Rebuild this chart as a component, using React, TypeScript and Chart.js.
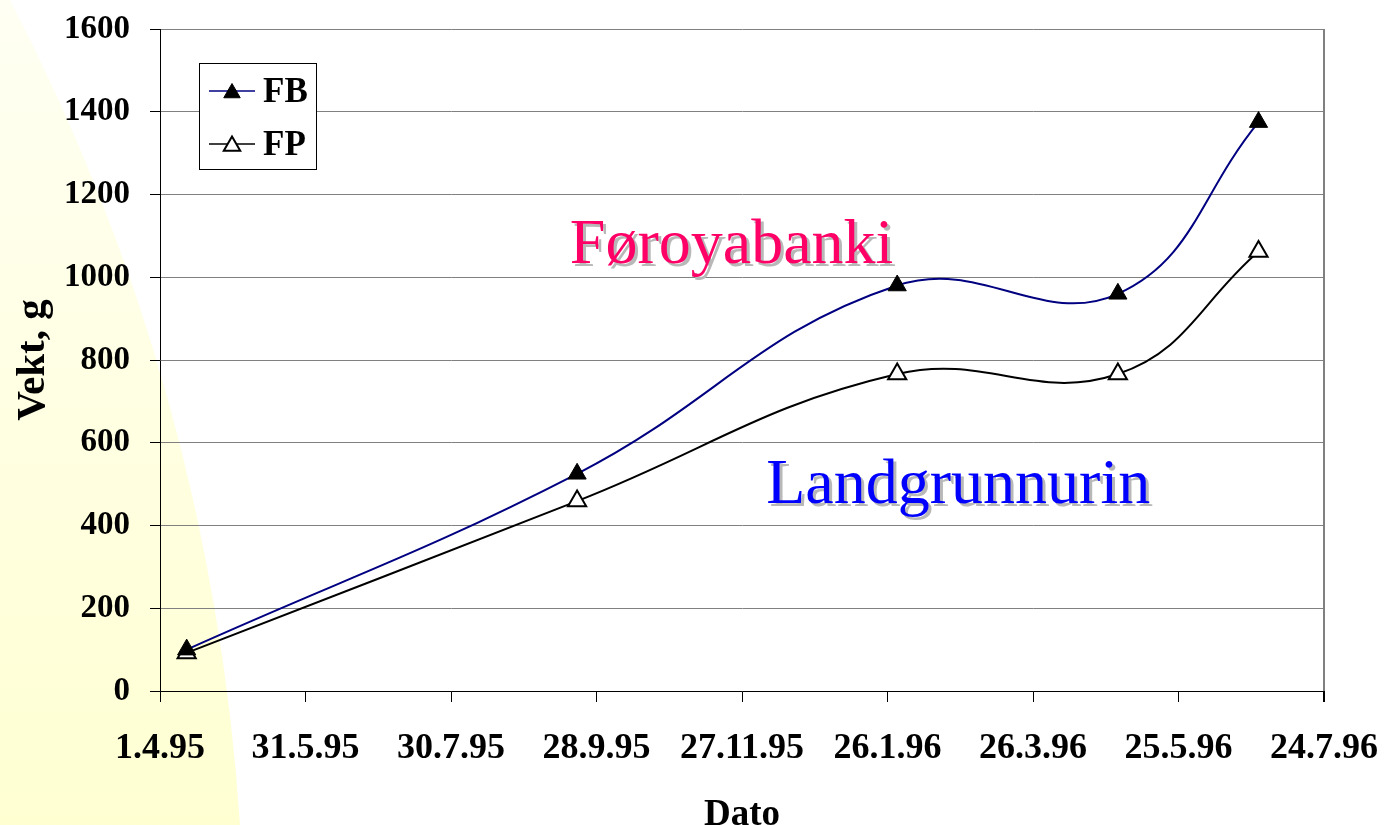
import React, { useEffect, useRef } from 'react';
import { Chart, registerables } from 'chart.js';

Chart.register(...registerables);

// ---- data ----
const xTickLabels = ['1.4.95', '31.5.95', '30.7.95', '28.9.95', '27.11.95', '26.1.96', '26.3.96', '25.5.96', '24.7.96'];
const xTickStepDays = 60; // days between tick labels
const sampleDays = [11, 172, 304, 395, 453]; // days after 1.4.95
const fbValues = [100, 525, 980, 960, 1375];
const fpValues = [92, 459, 766, 766, 1062];
const seriesNames = ['FB', 'FP'];
const yTitle = 'Vekt, g';
const xTitle = 'Dato';
const annotationTexts = ['Føroyabanki', 'Landgrunnurin'];
const annotationDays = [169, 250];
const annotationValues = [1035, 455];

const SERIF = "'Liberation Serif', 'Times New Roman', Times, serif";

const backgroundPlugin = {
  id: 'slideBackground',
  beforeDraw(chart: any) {
    const ctx = chart.ctx;
    const h = chart.height;
    ctx.save();
    const g = ctx.createLinearGradient(0, 0, 0, h);
    g.addColorStop(0, '#FFFFF3');
    g.addColorStop(1, '#FFFFD2');
    ctx.fillStyle = g;
    ctx.beginPath();
    ctx.moveTo(0, 0);
    ctx.lineTo(10, 0);
    ctx.quadraticCurveTo(211, 387.5, 240, h);
    ctx.lineTo(0, h);
    ctx.closePath();
    ctx.fill();
    ctx.restore();
  },
};

const annotationPlugin = {
  id: 'textAnnotations',
  afterDatasetsDraw(chart: any) {
    const ctx = chart.ctx;
    const xs = chart.scales.x;
    const ys = chart.scales.y;
    const colors = ['#FF0066', '#0000FF'];
    ctx.save();
    ctx.font = `64px ${SERIF}`;
    ctx.textAlign = 'left';
    ctx.textBaseline = 'alphabetic';
    annotationTexts.forEach((t, i) => {
      const px = xs.getPixelForValue(annotationDays[i]);
      const py = ys.getPixelForValue(annotationValues[i]);
      ctx.fillStyle = '#B8B8B8';
      ctx.fillText(t, px + 3, py + 3);
      ctx.fillStyle = colors[i];
      ctx.fillText(t, px, py);
    });
    ctx.restore();
  },
};

const legendPlugin = {
  id: 'boxLegend',
  afterDraw(chart: any) {
    const ctx = chart.ctx;
    const left = chart.chartArea.left + 39;
    const top = chart.chartArea.top + 34;
    const w = 117;
    const h = 106;
    ctx.save();
    ctx.fillStyle = '#FFFFFF';
    ctx.fillRect(left, top, w, h);
    ctx.strokeStyle = '#000';
    ctx.lineWidth = 1;
    ctx.strokeRect(left + 0.5, top + 0.5, w, h);
    chart.data.datasets.forEach((ds: any, i: number) => {
      const cy = top + 28 + i * 53;
      ctx.strokeStyle = ds.borderColor;
      ctx.lineWidth = 1.5;
      ctx.beginPath();
      ctx.moveTo(left + 10, cy);
      ctx.lineTo(left + 56, cy);
      ctx.stroke();
      const cx = left + 33;
      const r = 9.5;
      ctx.beginPath();
      for (let k = 0; k < 3; k++) {
        const a = (k * 2 * Math.PI) / 3;
        const px = cx + Math.sin(a) * r;
        const py = cy + 2 - Math.cos(a) * r;
        if (k === 0) ctx.moveTo(px, py); else ctx.lineTo(px, py);
      }
      ctx.closePath();
      ctx.fillStyle = ds.pointBackgroundColor;
      ctx.fill();
      ctx.strokeStyle = ds.pointBorderColor;
      ctx.lineWidth = ds.pointBorderWidth;
      ctx.stroke();
      ctx.fillStyle = '#000';
      ctx.font = `bold 35px ${SERIF}`;
      ctx.textAlign = 'left';
      ctx.textBaseline = 'alphabetic';
      ctx.fillText(ds.label, left + 64, cy + 11);
    });
    ctx.restore();
  },
};

export default function App() {
  const canvasRef = useRef<HTMLCanvasElement | null>(null);

  useEffect(() => {
    const canvas = canvasRef.current;
    if (!canvas) return;
    const fb = sampleDays.map((d, i) => ({ x: d, y: fbValues[i] }));
    const fp = sampleDays.map((d, i) => ({ x: d, y: fpValues[i] }));
    const lastTick = xTickLabels.length - 1;
    const chart = new Chart(canvas, {
      type: 'line',
      data: {
        datasets: [
          {
            label: seriesNames[0],
            data: fb,
            borderColor: '#000080',
            borderWidth: 2,
            tension: 0.42,
            pointStyle: 'triangle',
            pointRadius: 10.5,
            pointBackgroundColor: '#000000',
            pointBorderColor: '#000000',
            pointBorderWidth: 1,
            fill: false,
          },
          {
            label: seriesNames[1],
            data: fp,
            borderColor: '#000000',
            borderWidth: 2,
            tension: 0.42,
            pointStyle: 'triangle',
            pointRadius: 10.5,
            pointBackgroundColor: '#FFFFFF',
            pointBorderColor: '#000000',
            pointBorderWidth: 2,
            fill: false,
          },
        ],
      },
      options: {
        responsive: false,
        animation: false,
        devicePixelRatio: 1,
        layout: { padding: { left: 0, right: 63, top: 29, bottom: 0 } },
        plugins: {
          legend: { display: false },
          tooltip: { enabled: false },
        },
        scales: {
          x: {
            type: 'linear',
            min: 0,
            max: xTickStepDays * lastTick,
            ticks: {
              stepSize: xTickStepDays,
              autoSkip: false,
              maxRotation: 0,
              padding: 25,
              color: '#000',
              font: { family: SERIF, size: 36, weight: 'bold' },
              callback: (v: any) => xTickLabels[Math.round(Number(v) / xTickStepDays)] ?? '',
            },
            grid: {
              drawOnChartArea: true,
              color: (c: any) => (c.index === lastTick ? '#808080' : 'rgba(0,0,0,0)'),
              tickColor: '#000',
              tickLength: 11,
              lineWidth: (c: any) => (c.index === lastTick ? 2 : 1),
            },
            border: { color: '#000', width: 1 },
            title: {
              display: true,
              text: xTitle,
              color: '#000',
              font: { family: SERIF, size: 37, weight: 'bold', lineHeight: 1 },
              padding: { top: 0, bottom: -9 },
            },
            afterFit: (s: any) => {
              s.height = 134;
              s.paddingLeft = 0;
              s.paddingRight = 0;
            },
          },
          y: {
            type: 'linear',
            min: 0,
            max: 1600,
            ticks: {
              stepSize: 200,
              padding: 20,
              color: '#000',
              font: { family: SERIF, size: 33, weight: 'bold' },
              callback: (v: any) => String(v),
            },
            grid: {
              color: '#808080',
              tickColor: '#000',
              tickLength: 10,
              lineWidth: 1,
            },
            border: { color: '#000', width: 1 },
            title: {
              display: true,
              text: yTitle,
              color: '#000',
              font: { family: SERIF, size: 41, weight: 'bold', lineHeight: 1 },
              padding: { top: 13, bottom: 0 },
            },
            afterFit: (s: any) => {
              s.width = 160;
              s.paddingTop = 0;
              s.paddingBottom = 0;
            },
          },
        },
      },
      plugins: [backgroundPlugin, annotationPlugin, legendPlugin],
    } as any);
    return () => chart.destroy();
  }, []);

  return (
    <div style={{ position: 'absolute', left: 0, top: 0, width: 1387, height: 825, background: '#fff' }}>
      <canvas ref={canvasRef} width={1387} height={825} style={{ display: 'block' }} />
    </div>
  );
}
